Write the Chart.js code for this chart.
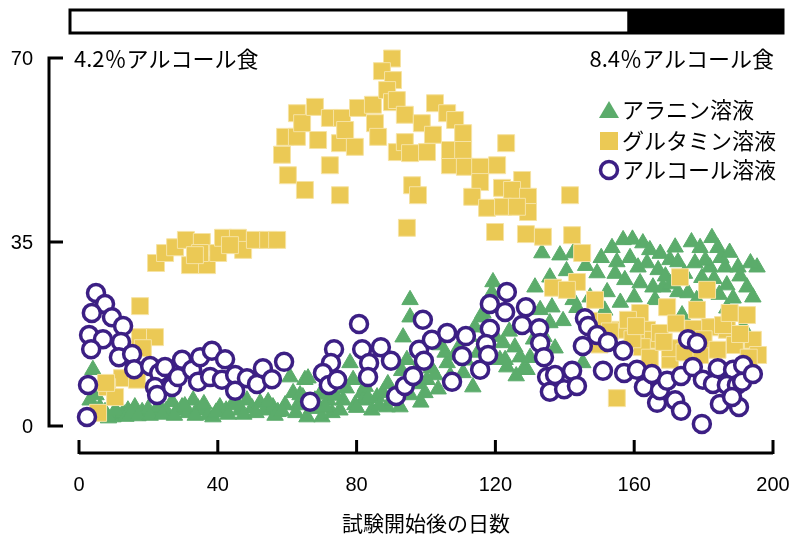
<!DOCTYPE html>
<html>
<head>
<meta charset="utf-8">
<script src="https://cdn.jsdelivr.net/npm/chart.js@4/dist/chart.umd.min.js"></script>
<style>
  html, body { margin: 0; padding: 0; background: #fff; }
  #wrap { width: 796px; height: 535px; }
</style>
</head>
<body>
<div id="wrap"><canvas id="chart"></canvas></div>
<script>
// ---- data (days since start, values) ----
const alanineDays = [4.0, 3.2, 4.9, 9.8, 7.5, 11.2, 12.7, 14.1, 16.1, 18.2, 19.9, 21.9, 23.3, 25.1, 26.8, 28.2, 29.7, 31.4, 32.9, 34.3,
  35.4, 37.2, 38.6, 40.6, 42.4, 44.1, 46.4, 48.4, 49.9, 52.2, 53.6, 55.9, 57.3, 59.4, 60.8, 61.7, 63.1, 65.1, 65.7, 66.0,
  68.0, 70.0, 72.9, 76.1, 78.1, 79.0, 81.6, 81.8, 84.4, 85.9, 87.6, 88.8, 92.5, 93.4, 95.4, 95.4, 94.5, 96.8, 100.3, 99.7,
  106.1, 105.5, 110.7, 113.5, 116.1, 117.6, 119.3, 119.0, 116.4, 114.1, 122.2, 121.3, 123.3, 127.1, 129.1, 125.6, 131.4, 132.9, 133.4, 138.6,
  135.7, 136.3, 135.7, 137.2, 142.4, 142.4, 145.2, 149.3, 156.8, 162.5, 153.6, 171.8, 179.0, 182.4, 184.1, 155.0, 158.8, 161.1, 163.7, 166.9,
  170.3, 172.6, 177.5, 181.8, 186.2, 189.9, 195.4, 152.2, 157.3, 161.7, 165.4, 168.3, 172.6, 175.5, 179.5, 186.7, 188.5, 192.5, 194.2, 166.0,
  186.7, 173.8, 191.4, 147.3, 149.6, 122.8, 128.0, 63.7, 68.9, 71.8, 75.2, 79.5, 83.3, 90.2, 95.4, 102.6, 104.0, 108.4,
  6.0, 8.5, 10.5, 13.5, 15.0, 17.0, 20.5, 24.0, 27.5, 30.5, 33.5, 36.0, 39.5, 43.0, 45.5, 47.5, 51.0, 54.5, 56.5, 58.5,
  62.5, 64.5, 67.0, 69.5, 71.0, 74.0, 77.0, 80.0, 82.5, 86.5, 89.0, 91.0, 93.0, 97.5, 98.5, 101.5, 103.5, 107.0, 109.5, 111.5,
  112.5, 115.0, 118.5, 120.0, 124.0, 126.0, 130.0, 131.0, 134.0, 139.5, 140.5, 143.5, 146.0,
  150.5, 154.5, 159.5, 164.5, 167.5, 169.0, 174.5, 176.5, 180.5, 183.0, 185.0, 187.5, 190.5, 193.5, 160.0, 170.5, 178.0, 184.5, 151.5, 156.0];
const alanineValues = [10.7, 4.9, 5.9, 1.7, 2.7, 2.1, 2.5, 3.0, 3.6, 2.7, 3.2, 2.7, 3.6, 2.9, 4.6, 3.0, 3.6, 2.5, 4.9, 3.4,
  3.0, 2.1, 1.7, 3.6, 3.0, 4.0, 3.0, 4.9, 3.4, 4.4, 3.0, 3.6, 2.7, 4.0, 9.3, 6.3, 4.0, 8.8, 1.7, 9.1,
  4.9, 1.7, 2.5, 4.9, 12.0, 8.8, 6.3, 4.9, 3.0, 5.5, 6.3, 3.6, 3.6, 16.9, 24.0, 20.7, 12.6, 10.1, 8.8, 6.3,
  12.0, 14.0, 10.1, 7.4, 20.7, 18.8, 27.4, 25.3, 21.5, 18.8, 15.8, 12.6, 11.2, 13.1, 10.7, 15.0, 26.4, 22.1, 32.9, 32.5,
  28.3, 22.6, 19.6, 14.8, 24.0, 32.9, 12.0, 29.1, 35.4, 34.8, 33.9, 34.0, 33.9, 35.8, 33.9, 31.2, 32.0, 30.2, 31.0, 29.7,
  31.6, 31.2, 31.0, 30.2, 30.2, 30.2, 30.2, 25.5, 27.8, 27.2, 26.4, 26.4, 25.5, 25.3, 28.2, 26.8, 24.3, 26.4, 24.5, 24.0,
  22.4, 21.1, 18.8, 24.5, 19.8, 12.6, 10.7, 5.9, 4.0, 4.9, 3.0, 4.0, 5.3, 4.9, 5.9, 9.7, 15.4, 13.5,
  3.5, 1.5, 3.0, 1.8, 2.4, 1.9, 2.0, 2.2, 2.0, 3.8, 2.0, 4.2, 2.6, 2.2, 4.4, 2.2, 2.5, 4.6, 2.0, 2.8,
  2.5, 5.5, 3.3, 6.0, 3.5, 5.8, 7.2, 3.5, 7.5, 3.8, 8.0, 5.0, 10.5, 8.0, 4.5, 11.0, 7.0, 9.5, 15.0, 12.5,
  17.0, 14.0, 22.5, 17.0, 18.0, 9.5, 13.0, 16.5, 17.0, 20.0, 29.5, 22.5, 30.5,
  32.0, 29.0, 35.5, 33.5, 32.8, 28.5, 29.0, 35.0, 31.5, 28.0, 32.0, 33.0, 28.5, 31.0, 24.5, 27.0, 24.0, 25.0, 22.0, 23.5];

const glutamineDays = [17.6, 17.6, 21.9, 18.4, 12.4, 8.1, 10.4, 5.5, 16.7, 7.8, 22.2, 24.8, 27.7, 30.8, 32.0, 35.4, 36.9, 34.9, 40.1, 41.5,
  45.8, 47.3, 50.7, 54.5, 57.1, 33.4, 43.5, 58.5, 60.2, 65.1, 59.4, 62.8, 62.8, 64.3, 68.0, 68.9, 72.3, 72.3, 75.8, 75.2,
  76.7, 75.2, 79.5, 80.4, 85.3, 84.7, 86.2, 90.2, 87.3, 90.5, 88.8, 90.2, 91.6, 93.9, 91.6, 93.9, 95.4, 96.0, 97.7, 94.5,
  98.8, 100.3, 102.6, 102.0, 106.1, 107.5, 106.9, 108.4, 110.7, 106.9, 110.7, 111.2, 115.6, 120.5, 123.1, 115.6, 113.3, 117.6, 121.9, 127.7,
  124.8, 122.2, 129.4, 129.4, 126.2, 119.9, 128.8, 133.7, 141.5, 142.1, 145.0, 136.6, 143.5, 148.7, 151.0, 155.9, 161.7, 163.7, 165.4, 162.2,
  169.5, 173.2, 170.3, 178.1, 181.0, 183.3, 186.7, 192.5, 194.2, 195.7, 155.0, 167.4, 181.8, 185.6, 170.3, 176.3, 189.0, 179.0, 158.2, 140.6,
  150.0, 153.0, 159.5, 164.5, 168.5, 172.0, 174.5, 177.0, 180.0, 184.0, 187.5, 190.5, 193.0, 160.5, 147.0];
const glutamineValues = [22.8, 16.9, 16.9, 14.8, 9.1, 7.4, 5.5, 2.5, 8.8, 8.2, 31.0, 32.9, 34.0, 35.4, 30.6, 35.0, 30.6, 32.9, 32.9, 35.8,
  35.8, 33.5, 35.4, 35.4, 35.4, 32.5, 34.4, 51.6, 47.7, 44.9, 55.0, 59.5, 55.0, 57.6, 60.7, 54.4, 58.6, 49.6, 58.6, 53.8,
  56.3, 43.9, 53.1, 60.5, 57.6, 61.1, 55.0, 69.9, 67.5, 65.8, 63.9, 61.6, 62.0, 59.2, 52.1, 54.0, 51.9, 45.8, 43.9, 37.7,
  57.6, 52.1, 61.4, 55.4, 59.5, 51.9, 49.6, 58.2, 55.7, 52.5, 52.5, 49.3, 49.3, 49.6, 53.8, 46.4, 43.6, 41.5, 45.3, 46.8,
  44.9, 41.7, 43.6, 40.7, 41.7, 36.9, 36.5, 36.0, 43.9, 36.3, 32.9, 26.3, 27.4, 24.0, 19.8, 18.3, 21.5, 18.3, 16.4, 15.0,
  22.6, 28.3, 12.6, 22.1, 25.9, 18.8, 18.3, 21.1, 16.4, 13.5, 5.3, 17.7, 18.8, 19.2, 14.8, 16.4, 15.4, 13.5, 20.2, 25.9,
  15.5, 18.0, 16.5, 13.0, 16.0, 19.5, 14.0, 18.5, 16.5, 14.5, 21.5, 17.5, 13.0, 19.0, 20.0];

const alcoholDays = [4.9, 7.5, 3.7, 9.5, 12.7, 2.9, 6.9, 12.1, 3.5, 11.5, 15.3, 15.9, 20.5, 23.1, 24.8, 21.9, 22.5, 26.8, 28.5, 29.7,
  32.6, 34.3, 34.9, 38.3, 37.8, 41.2, 42.1, 45.0, 45.0, 48.4, 51.3, 53.0, 55.6, 59.1, 2.6, 2.3, 66.6, 73.5, 72.6, 70.3,
  72.0, 74.4, 80.7, 81.6, 83.6, 83.3, 87.0, 89.9, 91.4, 93.9, 96.3, 98.0, 99.4, 99.1, 101.7, 106.1, 107.5, 111.5, 110.4, 115.6,
  118.4, 118.4, 117.3, 117.9, 123.3, 122.8, 128.8, 127.7, 132.6, 132.9, 134.0, 134.9, 135.7, 137.2, 139.8, 142.1, 143.5, 145.8, 146.7, 149.3,
  145.2, 152.4, 156.8, 151.0, 157.1, 160.8, 162.8, 165.1, 166.6, 167.4, 169.5, 171.8, 173.5, 173.5, 176.9, 175.5, 178.1, 179.8, 182.7, 184.7,
  179.5, 184.1, 188.5, 190.2, 191.4, 186.7, 189.6, 191.1, 194.2, 188.2];
const alcoholValues = [25.3, 23.2, 21.5, 20.7, 19.0, 17.3, 16.5, 16.0, 14.6, 13.1, 13.7, 10.8, 11.4, 10.1, 11.2, 7.4, 5.9, 7.4, 9.3, 12.6,
  10.7, 8.4, 13.1, 14.3, 9.3, 8.8, 12.7, 9.7, 6.7, 9.1, 8.0, 11.0, 8.9, 12.2, 7.8, 1.7, 4.6, 14.6, 12.0, 10.1,
  7.8, 8.8, 19.4, 14.6, 12.0, 9.3, 15.0, 12.4, 5.7, 7.6, 9.5, 14.5, 12.4, 20.2, 16.4, 17.7, 8.4, 17.1, 13.3, 10.7,
  23.2, 18.5, 15.6, 13.5, 25.5, 21.7, 22.6, 19.2, 18.6, 15.8, 13.1, 9.3, 6.5, 9.7, 7.0, 10.5, 7.6, 20.5, 19.0, 17.3,
  15.2, 16.0, 14.3, 10.5, 10.1, 10.7, 7.4, 9.9, 4.4, 6.8, 8.6, 4.9, 2.9, 9.5, 11.2, 16.5, 15.8, 8.8, 8.0, 4.2,
  0.4, 11.0, 10.7, 3.6, 11.6, 7.8, 7.8, 8.4, 9.9, 5.5];

const xTicks = [0, 40, 80, 120, 160, 200];
const yTicks = [0, 35, 70];
const dietSwitchDay = 158;
const seriesNames = ['アラニン溶液', 'グルタミン溶液', 'アルコール溶液'];
const dietLabels = ['4.2％アルコール食', '8.4％アルコール食'];
const xTitle = '試験開始後の日数';

const GREEN = '#5bac6b', YELLOW = '#ebc955', YELLOW_EDGE = '#f6e3a4', PURPLE = '#3c1f84';
const LATIN = '20px "Liberation Sans", Arial, sans-serif';
const JP = '21px "Noto Sans CJK JP", sans-serif';

const pts = (xs, ys) => xs.map((d, i) => ({ x: d, y: ys[i] }));

// axes, diet bar, labels and legend drawn around the plot
const decor = {
  id: 'decor',
  beforeDatasetsDraw(chart) {
    const { ctx, chartArea: a, scales: { x, y } } = chart;
    ctx.save();
    ctx.strokeStyle = '#000';
    ctx.fillStyle = '#000';
    ctx.lineWidth = 3;

    // y axis (offset left)
    const ax = a.left - 30;
    ctx.beginPath();
    ctx.moveTo(ax + 14, y.getPixelForValue(70));
    ctx.lineTo(ax, y.getPixelForValue(70));
    ctx.lineTo(ax, y.getPixelForValue(0));
    ctx.lineTo(ax + 14, y.getPixelForValue(0));
    ctx.moveTo(ax, y.getPixelForValue(35));
    ctx.lineTo(ax + 14, y.getPixelForValue(35));
    ctx.stroke();
    ctx.font = LATIN;
    ctx.textAlign = 'right';
    ctx.textBaseline = 'middle';
    yTicks.forEach(v => ctx.fillText(String(v), ax - 16, y.getPixelForValue(v) + 1));

    // x axis (offset below)
    const ay = a.bottom + 27;
    ctx.beginPath();
    ctx.moveTo(x.getPixelForValue(0), ay);
    ctx.lineTo(x.getPixelForValue(200), ay);
    xTicks.forEach(v => {
      const px = x.getPixelForValue(v);
      ctx.moveTo(px, ay + 1);
      ctx.lineTo(px, ay - 13);
    });
    ctx.stroke();
    ctx.textAlign = 'center';
    xTicks.forEach(v => ctx.fillText(String(v), x.getPixelForValue(v), ay + 32));
    ctx.font = JP;
    ctx.fillText(xTitle, (a.left + a.right) / 2, ay + 70);

    // diet bar on top
    const bx0 = a.left - 9, bx1 = a.right + 10, by = 10, bh = 23;
    const sw = x.getPixelForValue(dietSwitchDay);
    ctx.fillStyle = '#fff';
    ctx.fillRect(bx0, by, bx1 - bx0, bh);
    ctx.fillStyle = '#000';
    ctx.fillRect(sw, by, bx1 - sw, bh);
    ctx.strokeRect(bx0, by, bx1 - bx0, bh);

    ctx.font = '22px "Noto Sans CJK JP", sans-serif';
    ctx.textAlign = 'left';
    ctx.fillText(dietLabels[0], a.left - 5, a.top + 1);
    ctx.textAlign = 'right';
    ctx.fillText(dietLabels[1], a.right + 1, a.top + 1);
    ctx.restore();
  },
  afterDatasetsDraw(chart) {
    const { ctx, chartArea: a } = chart;
    ctx.save();
    const mx = a.right - 164, tx = mx + 13;
    const rows = [a.top + 52, a.top + 83, a.top + 112];
    // triangle
    ctx.fillStyle = GREEN;
    ctx.beginPath();
    ctx.moveTo(mx, rows[0] - 9);
    ctx.lineTo(mx + 10, rows[0] + 8);
    ctx.lineTo(mx - 10, rows[0] + 8);
    ctx.closePath();
    ctx.fill();
    // square
    ctx.fillStyle = YELLOW;
    ctx.fillRect(mx - 9, rows[1] - 9, 18, 18);
    // circle
    ctx.strokeStyle = PURPLE;
    ctx.lineWidth = 3.5;
    ctx.fillStyle = '#fff';
    ctx.beginPath();
    ctx.arc(mx, rows[2], 8.5, 0, Math.PI * 2);
    ctx.fill();
    ctx.stroke();

    ctx.fillStyle = '#000';
    ctx.font = '22px "Noto Sans CJK JP", sans-serif';
    ctx.textAlign = 'left';
    ctx.textBaseline = 'middle';
    seriesNames.forEach((s, i) => ctx.fillText(s, tx, rows[i]));
    ctx.restore();
  }
};

new Chart(document.getElementById('chart'), {
  type: 'scatter',
  data: {
    datasets: [
      {
        label: seriesNames[0], data: pts(alanineDays, alanineValues), order: 3,
        pointStyle: 'triangle', pointRadius: 9.5, backgroundColor: GREEN, borderColor: GREEN, borderWidth: 1, clip: false
      },
      {
        label: seriesNames[1], data: pts(glutamineDays, glutamineValues), order: 2,
        pointStyle: 'rect', pointRadius: 12, backgroundColor: YELLOW, borderColor: YELLOW_EDGE, borderWidth: 1, clip: false
      },
      {
        label: seriesNames[2], data: pts(alcoholDays, alcoholValues), order: 1,
        pointStyle: 'circle', pointRadius: 8.5, backgroundColor: '#fff', borderColor: PURPLE, borderWidth: 3.5, clip: false
      }
    ]
  },
  options: {
    responsive: true,
    maintainAspectRatio: false,
    animation: false,
    events: [],
    layout: { padding: { left: 79, right: 23, top: 58, bottom: 109 } },
    scales: {
      x: { type: 'linear', min: 0, max: 200, display: false },
      y: { type: 'linear', min: 0, max: 70, display: false }
    },
    plugins: { legend: { display: false }, tooltip: { enabled: false } }
  },
  plugins: [decor]
});
</script>
</body>
</html>
